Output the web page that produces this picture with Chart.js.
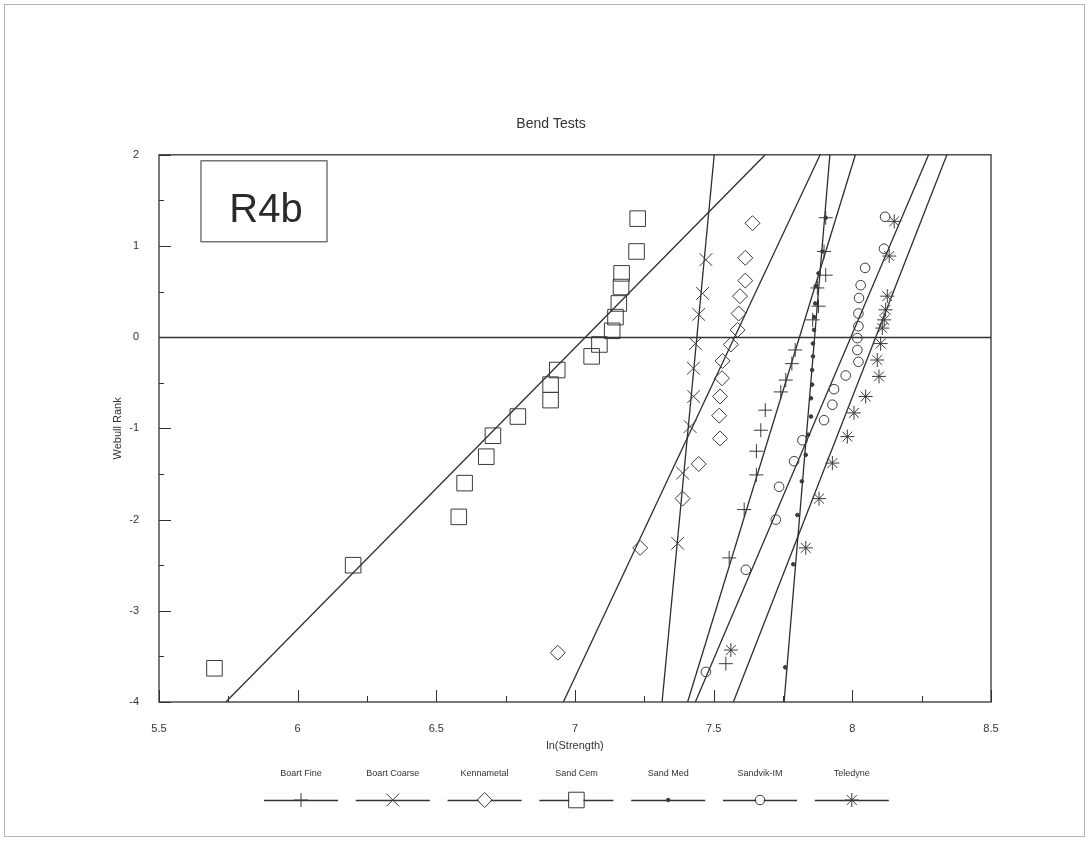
<!DOCTYPE html>
<html>
<head>
<meta charset="utf-8">
<script src="https://cdn.jsdelivr.net/npm/chart.js@4.4.0/dist/chart.umd.min.js"></script>
<style>
  html, body { margin: 0; padding: 0; background: #fff; }
  #wrap { position: relative; width: 1090px; height: 847px; }
  #page { position: absolute; left: 4px; top: 4px; width: 1081px; height: 833px; border: 1px solid #b5b5b5; box-sizing: border-box; }
  #chart { position: absolute; left: 0; top: 0; }
</style>
</head>
<body>
<div id="wrap">
  <div id="page"></div>
  <canvas id="chart" width="1090" height="847"></canvas>
</div>
<script>
// Bend Tests — Weibull plot (R4b)
// valores: x = ln(Strength), y = Weibull rank

const seriesNames = ['Boart Fine', 'Boart Coarse', 'Kennametal', 'Sand Cem', 'Sand Med', 'Sandvik-IM', 'Teledyne'];

const boartFineX = [7.904, 7.898, 7.904, 7.874, 7.878, 7.857, 7.794, 7.782, 7.760, 7.742, 7.686, 7.670, 7.654, 7.654, 7.610, 7.556, 7.544];
const boartFineY = [1.31, 0.94, 0.68, 0.54, 0.34, 0.19, -0.14, -0.29, -0.47, -0.60, -0.80, -1.02, -1.25, -1.51, -1.89, -2.42, -3.58];

const boartCoarseX = [7.472, 7.460, 7.446, 7.434, 7.427, 7.428, 7.415, 7.388, 7.370];
const boartCoarseY = [0.85, 0.48, 0.25, -0.07, -0.34, -0.65, -0.98, -1.49, -2.26];

const kennametalX = [7.640, 7.614, 7.614, 7.595, 7.590, 7.586, 7.562, 7.532, 7.530, 7.523, 7.520, 7.523, 7.446, 7.388, 7.235, 6.938];
const kennametalY = [1.25, 0.87, 0.62, 0.45, 0.26, 0.08, -0.08, -0.26, -0.45, -0.65, -0.86, -1.11, -1.39, -1.77, -2.31, -3.46];

const sandCemX = [7.226, 7.222, 7.168, 7.166, 7.158, 7.146, 7.134, 7.088, 7.060, 6.936, 6.912, 6.912, 6.794, 6.704, 6.680, 6.602, 6.581, 6.200, 5.700];
const sandCemY = [1.30, 0.94, 0.70, 0.55, 0.37, 0.22, 0.07, -0.08, -0.21, -0.36, -0.52, -0.69, -0.87, -1.08, -1.31, -1.60, -1.97, -2.50, -3.63];

const sandMedX = [7.904, 7.892, 7.878, 7.868, 7.866, 7.862, 7.862, 7.858, 7.858, 7.855, 7.855, 7.851, 7.851, 7.841, 7.832, 7.818, 7.802, 7.787, 7.758];
const sandMedY = [1.31, 0.94, 0.70, 0.56, 0.37, 0.22, 0.08, -0.07, -0.21, -0.36, -0.52, -0.67, -0.87, -1.07, -1.29, -1.58, -1.95, -2.49, -3.62];

const sandvikX = [8.118, 8.114, 8.046, 8.030, 8.024, 8.022, 8.022, 8.018, 8.018, 8.022, 7.976, 7.934, 7.928, 7.898, 7.820, 7.790, 7.736, 7.724, 7.616, 7.472];
const sandvikY = [1.32, 0.97, 0.76, 0.57, 0.43, 0.26, 0.12, -0.01, -0.14, -0.27, -0.42, -0.57, -0.74, -0.91, -1.13, -1.36, -1.64, -2.00, -2.55, -3.67];

const teledyneX = [8.151, 8.133, 8.126, 8.120, 8.115, 8.108, 8.102, 8.090, 8.096, 8.048, 8.006, 7.982, 7.928, 7.880, 7.832, 7.562];
const teledyneY = [1.27, 0.89, 0.45, 0.30, 0.19, 0.10, -0.07, -0.25, -0.43, -0.65, -0.83, -1.09, -1.38, -1.77, -2.31, -3.43];

// retas ajustadas: x em y = -4 (base) e em y = 2 (topo), mesma ordem das séries
const fitBottomX = [7.406, 7.314, 6.958, 5.741, 7.754, 7.434, 7.571];
const fitTopX    = [8.011, 7.502, 7.884, 7.686, 7.919, 8.275, 8.341];
const fitYRange  = [-4, 2];

const xTicks = [5.5, 6, 6.5, 7, 7.5, 8, 8.5];
const yTicks = [-4, -3, -2, -1, 0, 1, 2];

const INK  = '#3a3a3a';
const FONT = '"Liberation Sans", Arial, sans-serif';

const pointX = [boartFineX, boartCoarseX, kennametalX, sandCemX, sandMedX, sandvikX, teledyneX];
const pointY = [boartFineY, boartCoarseY, kennametalY, sandCemY, sandMedY, sandvikY, teledyneY];

// estilo de marcador por série
const markers = [
  { style: 'cross',    r: 7,    fill: 'transparent' },
  { style: 'crossRot', r: 9,    fill: 'transparent' },
  { style: 'rectRot',  r: 7.5,  fill: 'transparent' },
  { style: 'rect',     r: 11,   fill: 'transparent' },
  { style: 'circle',   r: 1.8,  fill: INK },
  { style: 'circle',   r: 4.8,  fill: 'transparent' },
  { style: 'star',     r: 7,    fill: 'transparent' }
];

const pts = (xs, ys) => xs.map((x, i) => ({ x, y: ys[i] }));

const datasets = [];
seriesNames.forEach((name, i) => {
  datasets.push({
    label: name,
    data: pts(pointX[i], pointY[i]),
    showLine: false,
    pointStyle: markers[i].style,
    pointRadius: markers[i].r,
    pointBorderWidth: 1,
    pointBorderColor: INK,
    pointBackgroundColor: markers[i].fill
  });
});
seriesNames.forEach((name, i) => {
  datasets.push({
    label: name + ' fit',
    data: [{ x: fitBottomX[i], y: fitYRange[0] }, { x: fitTopX[i], y: fitYRange[1] }],
    showLine: true,
    borderColor: '#2e2e2e',
    borderWidth: 1.3,
    pointRadius: 0
  });
});

// moldura, linha do zero, ticks internos, caixa R4b e legenda embaixo
const decorPlugin = {
  id: 'decor',
  afterDatasetsDraw(chart) {
    const { ctx, chartArea: a, scales: { x, y } } = chart;
    ctx.save();
    ctx.strokeStyle = '#333';
    ctx.lineWidth = 1.3;

    // linha y = 0
    const y0 = Math.round(y.getPixelForValue(0)) + 0.5;
    ctx.beginPath(); ctx.moveTo(a.left, y0); ctx.lineTo(a.right, y0); ctx.stroke();

    // moldura
    ctx.strokeRect(a.left, a.top, a.right - a.left, a.bottom - a.top);

    // ticks para dentro
    ctx.lineWidth = 1;
    ctx.beginPath();
    for (let v = -4; v <= 2.001; v += 0.5) {
      const p = Math.round(y.getPixelForValue(v)) + 0.5;
      const len = Math.abs(v % 1) < 0.01 ? 12 : 5;
      ctx.moveTo(a.left, p); ctx.lineTo(a.left + len, p);
    }
    for (let v = 5.5; v <= 8.501; v += 0.25) {
      const p = Math.round(x.getPixelForValue(v)) + 0.5;
      const len = Math.abs((v * 2) % 1) < 0.01 ? 12 : 6;
      ctx.moveTo(p, a.bottom); ctx.lineTo(p, a.bottom - len);
    }
    ctx.stroke();

    // caixa R4b
    const bx = a.left + 42, by = a.top + 6;
    ctx.strokeStyle = '#555';
    ctx.lineWidth = 1.2;
    ctx.strokeRect(bx, by, 126, 81);
    ctx.fillStyle = '#2a2a2a';
    ctx.font = '40px ' + FONT;
    ctx.textAlign = 'center';
    ctx.textBaseline = 'alphabetic';
    ctx.fillText('R4b', bx + 65, by + 61);

    // legenda
    const startX = 301, step = 91.8, labelY = 774, symY = 800;
    seriesNames.forEach((name, i) => {
      const cx = startX + i * step;
      ctx.fillStyle = '#333';
      ctx.font = '9px ' + FONT;
      ctx.textAlign = 'center';
      ctx.textBaseline = 'middle';
      ctx.fillText(name, cx, labelY);
      ctx.strokeStyle = '#333';
      ctx.lineWidth = 1.3;
      ctx.beginPath(); ctx.moveTo(cx - 37, symY + 0.5); ctx.lineTo(cx + 37, symY + 0.5); ctx.stroke();
      const m = markers[i];
      if (m.fill === 'transparent' && (m.style === 'rect' || m.style === 'rectRot' || m.style === 'circle')) {
        // apaga a linha debaixo do marcador vazio
        ctx.fillStyle = '#fff';
        Chart.helpers.drawPoint(ctx, { pointStyle: m.style, radius: m.r - 1, borderWidth: 0, rotation: 0 }, cx, symY);
      }
      ctx.fillStyle = m.fill;
      ctx.strokeStyle = INK;
      ctx.lineWidth = 1;
      Chart.helpers.drawPoint(ctx, { pointStyle: m.style, radius: m.r, borderWidth: 1, rotation: 0 }, cx, symY);
    });
    ctx.restore();
  }
};

new Chart(document.getElementById('chart'), {
  type: 'scatter',
  data: { datasets },
  plugins: [decorPlugin],
  options: {
    responsive: false,
    animation: false,
    layout: { padding: { left: 111, right: 99, top: 0, bottom: 87 } },
    plugins: {
      legend: { display: false },
      tooltip: { enabled: false },
      title: {
        display: true,
        text: 'Bend Tests',
        color: '#333',
        font: { family: FONT, size: 14, weight: 'normal' },
        padding: { top: 116, bottom: 22 }
      }
    },
    scales: {
      x: {
        type: 'linear',
        min: 5.5, max: 8.5,
        afterBuildTicks: s => { s.ticks = xTicks.map(v => ({ value: v })); },
        afterFit: s => { s.height = 58; },
        grid: { display: false },
        border: { display: false },
        ticks: { color: '#333', padding: 12, font: { family: FONT, size: 11 }, maxRotation: 0, callback: v => String(v) },
        title: { display: true, text: 'ln(Strength)', color: '#333', font: { family: FONT, size: 11 }, padding: { top: 0, bottom: 7 } }
      },
      y: {
        type: 'linear',
        min: -4, max: 2,
        afterBuildTicks: s => { s.ticks = yTicks.map(v => ({ value: v })); },
        afterFit: s => { s.width = 48; },
        grid: { display: false },
        border: { display: false },
        ticks: { color: '#333', padding: 12, font: { family: FONT, size: 11 }, callback: v => String(v) },
        title: { display: true, text: 'Webull Rank', color: '#333', font: { family: FONT, size: 11 }, padding: 0 }
      }
    }
  }
});
</script>
</body>
</html>
